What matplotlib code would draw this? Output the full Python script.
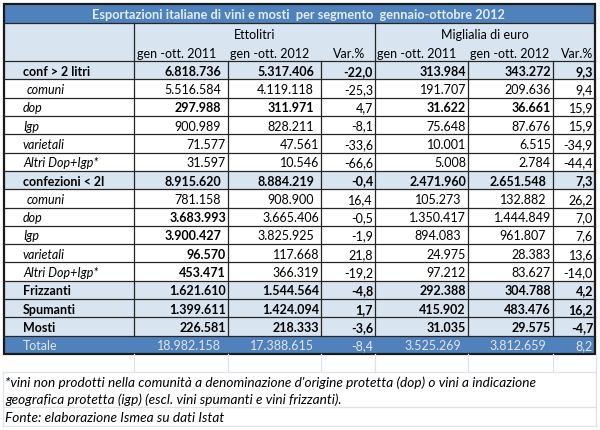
import matplotlib.pyplot as plt
from matplotlib.patches import Rectangle

plt.rcParams['font.family'] = ['Lato', 'DejaVu Sans']

title = "Esportazioni italiane di vini e mosti  per segmento  gennaio-ottobre 2012"
groups = ["Ettolitri", "Miglialia di euro"]
subheads = ["gen -ott. 2011", "gen -ott. 2012", "Var.%", "gen -ott. 2011", "gen -ott. 2012", "Var.%"]

labels = ["conf > 2 litri", " comuni", "dop", "Igp", "varietali", "Altri Dop+Igp*",
          "confezioni < 2l", " comuni", "dop", "Igp", "varietali", "Altri Dop+Igp*",
          "Frizzanti", "Spumanti", "Mosti", "Totale"]

# trailing space = cell text had a trailing blank in the sheet
hl_2011 = ["6.818.736 ", "5.516.584 ", "297.988 ", "900.989 ", "71.577", "31.597",
           "8.915.620 ", "781.158 ", "3.683.993", "3.900.427 ", "96.570", "453.471",
           "1.621.610", "1.399.611", "226.581", "18.982.158 "]
hl_2012 = ["5.317.406 ", "4.119.118 ", "311.971 ", "828.211 ", "47.561", "10.546",
           "8.884.219 ", "908.900 ", "3.665.406", "3.825.925 ", "117.668", "366.319",
           "1.544.564", "1.424.094", "218.333", "17.388.615 "]
hl_var = ["-22,0", "-25,3", "4,7", "-8,1", "-33,6", "-66,6",
          "-0,4", "16,4", "-0,5", "-1,9", "21,8", "-19,2",
          "-4,8", "1,7", "-3,6", "-8,4"]
eur_2011 = ["313.984", "191.707", "31.622", "75.648", "10.001", "5.008",
            "2.471.960", "105.273 ", "1.350.417", "894.083 ", "24.975", "97.212",
            "292.388", "415.902", "31.035", "3.525.269 "]
eur_2012 = ["343.272", "209.636", "36.661", "87.676", "6.515", "2.784",
            "2.651.548 ", "132.882 ", "1.444.849", "961.807 ", "28.383", "83.627",
            "304.788", "483.476", "29.575", "3.812.659 "]
eur_var = ["9,3", "9,4", "15,9", "15,9", "-34,9", "-44,4",
           "7,3", "26,2", "7,0", "7,6", "13,6", "-14,0",
           "4,2", "16,2", "-4,7", "8,2"]

bold = [[1]*6, [0]*6, [1, 1, 0, 1, 1, 0], [0]*6, [0]*6, [0]*6,
        [1]*6, [0]*6, [1, 0, 0, 0, 0, 0], [1, 0, 0, 0, 0, 0], [1, 0, 0, 0, 0, 0], [1, 0, 0, 0, 0, 0],
        [1]*6, [1]*6, [1]*6, [0]*6]
section_rows = [0, 6, 12, 13, 14]

notes = ["*vini non prodotti nella comunità a denominazione d'origine protetta (dop) o vini a indicazione",
         "geografica protetta (igp) (escl. vini spumanti e vini frizzanti).",
         "Fonte: elaborazione Ismea su dati Istat"]

# layout in pixels
W, H = 600, 431
xs = [4, 134, 228, 321, 375, 468, 553, 595]
y_title, y_head, y_data = 5, 24, 62
rh = (355 - 62) / 16
blue = '#4f81bd'
light = '#d9e4f1'
grid = '#262626'
pale = '#dde3ea'
fs = 9

fig = plt.figure(figsize=(6, 4.31), dpi=100)
ax = fig.add_axes([0, 0, 1, 1])
ax.set_xlim(0, W)
ax.set_ylim(H, 0)
ax.axis('off')

# title
ax.add_patch(Rectangle((xs[0], y_title), xs[-1] - xs[0], y_head - y_title, color=blue, lw=0))
ax.text(298, (y_title + y_head) / 2 + 0.5, title, ha='center', va='center', color='#e4edf7',
        fontsize=9.2, fontweight='bold')

# header
ax.add_patch(Rectangle((xs[0], y_head), xs[-1] - xs[0], y_data - y_head, color=light, lw=0))
ax.text((xs[1] + xs[4]) / 2, 35, groups[0], ha='center', va='center', fontsize=fs)
ax.text((xs[4] + xs[7]) / 2, 35, groups[1], ha='center', va='center', fontsize=fs)
sub_x = [137, 230, 365, 377, 549, 593]
sub_ha = ['left', 'left', 'right', 'left', 'right', 'right']
for x, s, ha in zip(sub_x, subheads, sub_ha):
    ax.text(x, 53.5, s, ha=ha, va='center', fontsize=fs)
for x in [xs[1], xs[4]]:
    ax.plot([x, x], [y_head, y_data], color=grid, lw=0.9)
ax.plot([xs[0], xs[-1]], [y_head, y_head], color=grid, lw=0.9)

# body
cols = [hl_2011, hl_2012, hl_var, eur_2011, eur_2012, eur_var]
for i, lab in enumerate(labels):
    y0 = y_data + i * rh
    yc = y0 + rh / 2 + 0.5
    if i in section_rows:
        ax.add_patch(Rectangle((xs[0], y0), xs[-1] - xs[0], rh, color=light, lw=0))
    last = i == len(labels) - 1
    if last:
        ax.add_patch(Rectangle((xs[0], y0), xs[-1] - xs[0], rh, color=blue, lw=0))
        tc, w, st = '#dce6f1', 'normal', 'normal'
    elif i in section_rows:
        tc, w, st = 'black', 'bold', 'normal'
    else:
        tc, w, st = 'black', 'normal', 'italic'
    lx = 27 if lab.startswith(' ') else 23
    ax.text(lx, yc, lab.strip(), ha='left', va='center', fontsize=fs, color=tc,
            fontweight=w, fontstyle=st)
    for j, col in enumerate(cols):
        s = col[i]
        pad = 7 if s.endswith(' ') else 2
        ax.text(xs[j + 2] - pad, yc, s.strip(), ha='right', va='center', fontsize=fs,
                color=tc, fontweight='bold' if bold[i][j] else 'normal')
    ax.plot([xs[0], xs[-1]], [y0, y0], color=grid, lw=0.9)

y_end = y_data + len(labels) * rh
for x in xs[1:-1]:
    ax.plot([x, x], [y_data, y_end - rh], color=grid, lw=0.9)

# outer border
ax.add_patch(Rectangle((xs[0], y_title), xs[-1] - xs[0], y_end - y_title, fill=False,
                       edgecolor='#1a1a1a', lw=1.6))

# empty row + notes
y_note = y_end + 18
for x in xs[1:-1]:
    ax.plot([x, x], [y_end, y_note], color=pale, lw=0.9)
for y in [y_note, 408, 427]:
    ax.plot([3, 596], [y, y], color=pale, lw=0.9)
ax.plot([3, 3], [y_note, 427], color=pale, lw=0.9)
ax.plot([596, 596], [y_end, 427], color=pale, lw=0.9)
for y, s in zip([383, 400, 418], notes):
    ax.text(5, y, s, ha='left', va='center', fontsize=9.8, fontstyle='italic')

fig.savefig('out.png', dpi=100)
